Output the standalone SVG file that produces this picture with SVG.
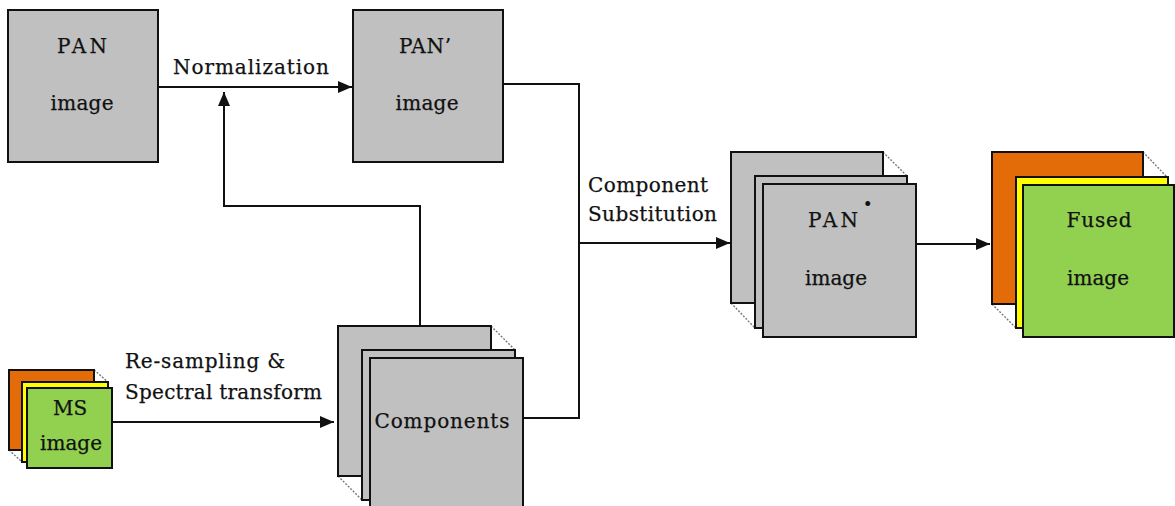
<svg xmlns="http://www.w3.org/2000/svg" width="1175" height="506" viewBox="0 0 1175 506">
  <style>
    .box { stroke: #111; stroke-width: 2; }
    .gray { fill: #c0c0c0; }
    .orange { fill: #e36c09; }
    .yellow { fill: #ffff00; }
    .green { fill: #92d050; }
    .fold { stroke: #777; stroke-width: 1.4; stroke-dasharray: 2 1.5; fill: none; }
    .wire { stroke: #111; stroke-width: 2; fill: none; }
    text { font-family: "DejaVu Serif", "Liberation Serif", serif; font-size: 20px; fill: #111; stroke: #111; stroke-width: 0.25; }
    .c { text-anchor: middle; }
  </style>
  <defs>
    <marker id="arrow" viewBox="0 0 14 12" refX="14" refY="6" markerWidth="14" markerHeight="12" markerUnits="userSpaceOnUse" orient="auto">
      <path d="M0,0 L14,6 L0,12 Z" fill="#111"/>
    </marker>
  </defs>

  <!-- connectors -->
  <g id="connectors">
    <path class="wire" d="M158,87 H352" marker-end="url(#arrow)"/>
    <path class="wire" d="M420,326 V206 H224 V92" marker-end="url(#arrow)"/>
    <path class="wire" d="M503,84 H579 V418 H523"/>
    <path class="wire" d="M579,243 H730" marker-end="url(#arrow)"/>
    <path class="wire" d="M916,244 H990" marker-end="url(#arrow)"/>
    <path class="wire" d="M112,422 H334" marker-end="url(#arrow)"/>
  </g>

  <!-- connector labels -->
  <g id="labels">
    <text x="173" y="74" textLength="156" lengthAdjust="spacing">Normalization</text>
    <text x="125" y="368" textLength="160" lengthAdjust="spacing">Re-sampling &amp;</text>
    <text x="125" y="399" textLength="197" lengthAdjust="spacing">Spectral transform</text>
    <text x="588" y="192" textLength="120" lengthAdjust="spacing">Component</text>
    <text x="588" y="221" textLength="129" lengthAdjust="spacing">Substitution</text>
  </g>

  <!-- PAN image -->
  <g id="pan">
    <rect class="box gray" x="8" y="10" width="150" height="152"/>
    <text class="c" x="82" y="53" textLength="50" lengthAdjust="spacing">PAN</text>
    <text class="c" x="82" y="110" textLength="63" lengthAdjust="spacing">image</text>
  </g>

  <!-- PAN' image -->
  <g id="pan-prime">
    <rect class="box gray" x="353" y="10" width="150" height="152"/>
    <text class="c" x="425" y="53" textLength="52" lengthAdjust="spacing">PAN’</text>
    <text class="c" x="427" y="110" textLength="63" lengthAdjust="spacing">image</text>
  </g>

  <!-- MS image stack -->
  <g id="ms">
    <path class="fold" d="M94,370 L108,382 M9,450 L22,462"/>
    <rect class="box orange" x="9" y="370" width="85" height="80"/>
    <rect class="box yellow" x="22" y="382" width="86" height="80"/>
    <rect class="box green" x="27" y="388" width="85" height="80"/>
    <text class="c" x="70" y="415">MS</text>
    <text class="c" x="71" y="450" textLength="62" lengthAdjust="spacing">image</text>
  </g>

  <!-- Components stack -->
  <g id="components">
    <path class="fold" d="M491,326 L515,350 M338,476 L362,500"/>
    <rect class="box gray" x="338" y="326" width="153" height="150"/>
    <rect class="box gray" x="362" y="350" width="153" height="150"/>
    <rect class="box gray" x="370" y="358" width="153" height="152"/>
    <text class="c" x="442" y="428" textLength="135" lengthAdjust="spacing">Components</text>
  </g>

  <!-- PAN* image stack -->
  <g id="pan-star">
    <path class="fold" d="M883,152 L907,176 M731,303 L755,328"/>
    <rect class="box gray" x="731" y="152" width="152" height="151"/>
    <rect class="box gray" x="755" y="176" width="152" height="152"/>
    <rect class="box gray" x="763" y="184" width="153" height="153"/>
    <text class="c" x="833" y="227" textLength="50" lengthAdjust="spacing">PAN</text>
    <text x="863" y="210" style="font-size:16px">•</text>
    <text class="c" x="836" y="285" textLength="62" lengthAdjust="spacing">image</text>
  </g>

  <!-- Fused image stack -->
  <g id="fused">
    <path class="fold" d="M1143,152 L1167,177 M992,304 L1016,328"/>
    <rect class="box orange" x="992" y="152" width="151" height="152"/>
    <rect class="box yellow" x="1016" y="177" width="152" height="151"/>
    <rect class="box green" x="1023" y="185" width="151" height="152"/>
    <text class="c" x="1099" y="227" textLength="65" lengthAdjust="spacing">Fused</text>
    <text class="c" x="1098" y="285" textLength="62" lengthAdjust="spacing">image</text>
  </g>
</svg>
